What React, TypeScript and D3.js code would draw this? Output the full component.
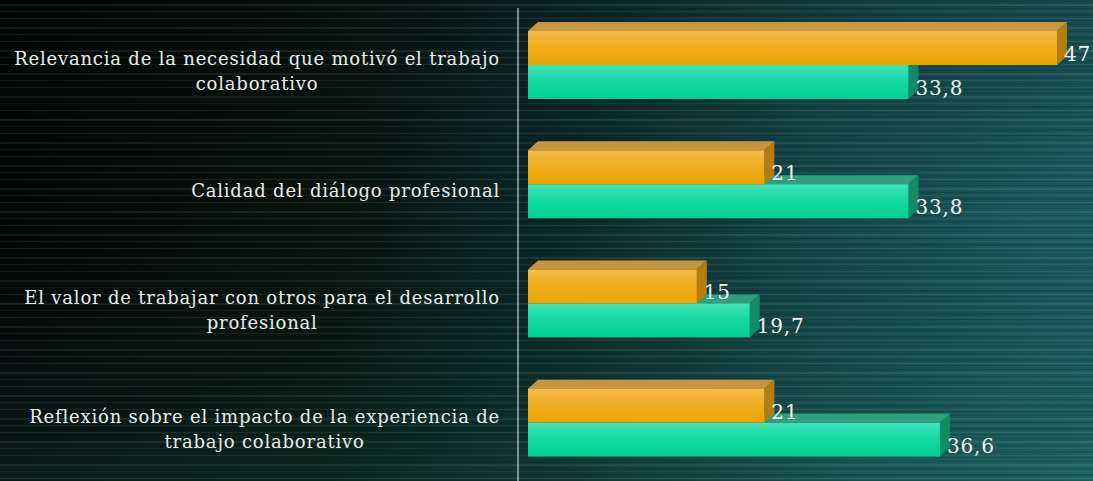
import React, { useEffect, useRef } from "react";
import * as d3 from "d3";

// categories (line breaks as in the original slide)
const categories = [
  "Relevancia de la necesidad que motivó el trabajo\ncolaborativo",
  "Calidad del diálogo profesional",
  "El valor de trabajar con otros para el desarrollo\nprofesional",
  "Reflexión sobre el impacto de la experiencia de\ntrabajo colaborativo",
];
const seriesKeys = ["naranja", "verde"];
const orangeValues = [47, 21, 15, 21];
const greenValues = [33.8, 33.8, 19.7, 36.6];

const W = 1093;
const H = 481;

export default function App() {
  const ref = useRef<SVGSVGElement>(null);

  useEffect(() => {
    const svg = d3.select(ref.current);
    svg.selectAll("*").remove();

    const font = "'DejaVu Serif', Georgia, serif";
    const fmt = d3.formatLocale({ decimal: ",", thousands: ".", grouping: [3], currency: ["", ""] }).format(".1~f");

    const defs = svg.append("defs");

    // background
    const bg = defs.append("linearGradient").attr("id", "bg").attr("x1", 0).attr("x2", 1).attr("y1", 0).attr("y2", 0);
    [["0%", "#030807"], ["30%", "#07150f"], ["52%", "#0c2c2c"], ["75%", "#164c50"], ["100%", "#1d6064"]]
      .forEach(([o, c]) => bg.append("stop").attr("offset", o).attr("stop-color", c));
    const bgv = defs.append("linearGradient").attr("id", "bgv").attr("x1", 0).attr("x2", 0).attr("y1", 0).attr("y2", 1);
    [["0%", "#000000", 0.22], ["45%", "#000000", 0.04], ["100%", "#216e60", 0.22]]
      .forEach(([o, c, a]) => bgv.append("stop").attr("offset", o as string).attr("stop-color", c as string).attr("stop-opacity", a as number));

    const pat = defs.append("pattern").attr("id", "streaks").attr("patternUnits", "userSpaceOnUse")
      .attr("width", W).attr("height", 23);
    [[1, 1, 0.12, "#000"], [4, 2, 0.07, "#fff"], [8, 1, 0.14, "#000"], [11, 1, 0.06, "#fff"], [14, 2, 0.1, "#000"], [18, 1, 0.07, "#fff"], [20, 1, 0.12, "#000"]]
      .forEach(([y, h, a, c]) => pat.append("rect").attr("x", 0).attr("y", y as number).attr("width", W).attr("height", h as number)
        .attr("fill", c as string).attr("opacity", a as number));

    svg.append("rect").attr("width", W).attr("height", H).attr("fill", "url(#bg)");
    svg.append("rect").attr("width", W).attr("height", H).attr("fill", "url(#bgv)");
    svg.append("rect").attr("width", W).attr("height", H).attr("fill", "url(#streaks)");

    // bar gradients
    const grad = (id: string, stops: [string, string][]) => {
      const g = defs.append("linearGradient").attr("id", id).attr("x1", 0).attr("x2", 0).attr("y1", 0).attr("y2", 1);
      stops.forEach(([o, c]) => g.append("stop").attr("offset", o).attr("stop-color", c));
    };
    grad("orangeFront", [["0%", "#f2bb4c"], ["45%", "#f1ae22"], ["100%", "#e9a402"]]);
    grad("greenFront", [["0%", "#40e2b6"], ["45%", "#16d9a4"], ["100%", "#02cf96"]]);

    const styles: Record<string, { front: string; top: string; side: string }> = {
      naranja: { front: "url(#orangeFront)", top: "#c8953c", side: "#b57d10" },
      verde: { front: "url(#greenFront)", top: "#2f9f7e", side: "#138a68" },
    };

    // scales
    const x = d3.scaleLinear().domain([0, 47]).range([528, 1057]);
    const y = d3.scaleBand<string>().domain(categories).range([4.2, 483.4]).paddingInner(0.43).paddingOuter(0.225);
    const ys = d3.scaleBand<string>().domain(seriesKeys).range([0, y.bandwidth()]);

    const dx = 10;
    const dy = 9;

    const rows = categories.map((c, i) => ({ cat: c, naranja: orangeValues[i], verde: greenValues[i] }));

    // axis line
    const axis = d3.axisLeft(y).tickSize(0).tickFormat(() => "");
    const ax = svg.append("g").attr("transform", `translate(${x(0) - dx},0)`).call(axis);
    ax.select(".domain").attr("stroke", "#c9d3d2").attr("stroke-width", 1.2).attr("d", `M0,8V${H}`);

    // bars: green first so orange sits on top
    const drawBar = (g: d3.Selection<SVGGElement, unknown, null, undefined>, key: string, v: number, cat: string) => {
      const x0 = x(0);
      const x1 = x(v);
      const y0 = (y(cat) as number) + (ys(key) as number);
      const y1 = y0 + ys.bandwidth();
      const s = styles[key];
      g.append("path")
        .attr("d", `M${x0},${y0}L${x0 + dx},${y0 - dy}L${x1 + dx},${y0 - dy}L${x1},${y0}Z`)
        .attr("fill", s.top);
      g.append("path")
        .attr("d", `M${x1},${y0}L${x1 + dx},${y0 - dy}L${x1 + dx},${y1 - dy}L${x1},${y1}Z`)
        .attr("fill", s.side);
      g.append("rect").attr("x", x0).attr("y", y0).attr("width", x1 - x0).attr("height", y1 - y0).attr("fill", s.front);
    };

    const bars = svg.append("g");
    rows.forEach((r) => {
      const g = bars.append("g");
      drawBar(g, "verde", r.verde, r.cat);
      drawBar(g, "naranja", r.naranja, r.cat);
    });

    // value labels
    const labels = svg.append("g").attr("font-family", font).attr("font-size", 20)
      .attr("letter-spacing", 0.8).attr("fill", "#eef4f2");
    rows.forEach((r) => {
      seriesKeys.forEach((k) => {
        const v = r[k as "naranja" | "verde"];
        const yb = (y(r.cat) as number) + (ys(k) as number) + ys.bandwidth();
        labels.append("text").attr("x", x(v) + 7).attr("y", yb - 4).text(fmt(v));
      });
    });

    // category labels: centred lines, block right-aligned at x=500
    const catG = svg.append("g").attr("font-family", font).attr("font-size", 18)
      .attr("letter-spacing", 0.8).attr("fill", "#e6eeec");
    const lineH = 25;
    categories.forEach((c) => {
      const lines = c.split("\n");
      const cy = (y(c) as number) + y.bandwidth() / 2 + 7;
      const t = catG.append("text").attr("text-anchor", "middle");
      lines.forEach((l, i) => {
        t.append("tspan").attr("y", cy - ((lines.length - 1) * lineH) / 2 + i * lineH + 6).text(l);
      });
      let maxW = 0;
      t.selectAll<SVGTSpanElement, unknown>("tspan").each(function () {
        maxW = Math.max(maxW, this.getComputedTextLength());
      });
      t.selectAll("tspan").attr("x", 500 - maxW / 2);
    });
  }, []);

  return (
    <svg ref={ref} width={W} height={H} style={{ position: "absolute", left: 0, top: 0, display: "block" }} />
  );
}
